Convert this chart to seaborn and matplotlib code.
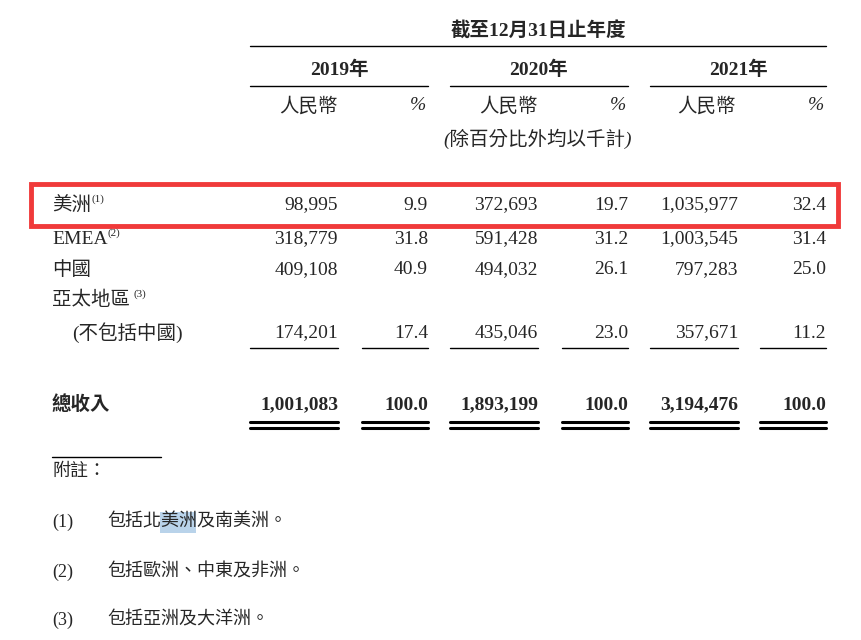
import matplotlib
matplotlib.use("Agg")
import matplotlib.pyplot as plt
import seaborn as sns
from matplotlib.patches import Rectangle

sns.set_theme(style="white")
plt.rcParams['font.family'] = ['Liberation Serif', 'Noto Sans CJK TC', 'DejaVu Sans']

title = "截至12月31日止年度"
years = ["2019年", "2020年", "2021年"]
unit_note = "(除百分比外均以千計)"
regions = ["美洲", "EMEA", "中國", "亞太地區", "(不包括中國)"]
marks = ["(1)", "(2)", "", "(3)", ""]
rmb_2019 = ["98,995", "318,779", "409,108", "", "174,201"]
pct_2019 = ["9.9", "31.8", "40.9", "", "17.4"]
rmb_2020 = ["372,693", "591,428", "494,032", "", "435,046"]
pct_2020 = ["19.7", "31.2", "26.1", "", "23.0"]
rmb_2021 = ["1,035,977", "1,003,545", "797,283", "", "357,671"]
pct_2021 = ["32.4", "31.4", "25.0", "", "11.2"]
total_label = "總收入"
totals = ["1,001,083", "100.0", "1,893,199", "100.0", "3,194,476", "100.0"]
notes_title = "附註："
notes = ["包括北美洲及南美洲。", "包括歐洲、中東及非洲。", "包括亞洲及大洋洲。"]

fig = plt.figure(figsize=(8.61, 6.40), dpi=100)
ax = fig.add_axes([0, 0, 1, 1])
ax.set_xlim(0, 861)
ax.set_ylim(640, 0)
ax.axis("off")

fs = 14
col_right = [338, 428, 538, 628, 738, 826]
group_span = [(250, 428), (450, 628), (650, 826)]

ax.text(538, 31, title, ha="center", va="center", fontsize=fs, fontweight="bold")
ax.plot([250, 826], [46, 46], color="black", lw=1)
for (x0, x1), y in zip(group_span, years):
    ax.text((x0 + x1) / 2, 70, y, ha="center", va="center", fontsize=fs, fontweight="bold")
    ax.plot([x0, x1], [86, 86], color="black", lw=1)
    ax.text(x1 - 90, 106, "人民幣", ha="right", va="center", fontsize=fs, style="italic")
    ax.text(x1 - 2, 106, "%", ha="right", va="center", fontsize=fs, style="italic")
ax.text(538, 139, unit_note, ha="center", va="center", fontsize=fs, style="italic")

row_y = [205, 239, 270, 300, 333]
cols = [rmb_2019, pct_2019, rmb_2020, pct_2020, rmb_2021, pct_2021]
for i, (name, mk, y) in enumerate(zip(regions, marks, row_y)):
    x = 72 if i == 4 else 52
    ax.text(x, y, name, ha="left", va="center", fontsize=fs)
    if mk:
        w = {"美洲": 39, "EMEA": 56, "亞太地區": 81}[name]
        ax.text(x + w, y - 6, mk, ha="left", va="center", fontsize=8)
    for xr, col in zip(col_right, cols):
        if col[i]:
            ax.text(xr, y, col[i], ha="right", va="center", fontsize=fs)

# single rules under last row
for xr, w in zip(col_right, [88, 66, 88, 66, 88, 66]):
    ax.plot([xr - w, xr], [348, 348], color="black", lw=1)

ax.text(52, 405, total_label, ha="left", va="center", fontsize=fs, fontweight="bold")
for xr, w, v in zip(col_right, [88, 66, 88, 66, 88, 66], totals):
    ax.text(xr, 405, v, ha="right", va="center", fontsize=fs, fontweight="bold")
    ax.plot([xr - w, xr], [422, 422], color="black", lw=2.2)
    ax.plot([xr - w, xr], [428, 428], color="black", lw=2.2)

ax.add_patch(Rectangle((31, 184), 807, 42, fill=False, edgecolor="#f03a3a", lw=3.5))

ax.plot([52, 161], [457, 457], color="black", lw=1)
ax.text(52, 471, notes_title, ha="left", va="center", fontsize=13, style="italic")
ax.add_patch(Rectangle((160, 512), 36, 21, color="#b9d3ea", lw=0))
for k, (note, y) in enumerate(zip(notes, [522, 572, 620])):
    ax.text(52, y, f"({k + 1})", ha="left", va="center", fontsize=13)
    ax.text(107, y, note, ha="left", va="center", fontsize=13)

fig.savefig("out.png", dpi=100, facecolor="white")
